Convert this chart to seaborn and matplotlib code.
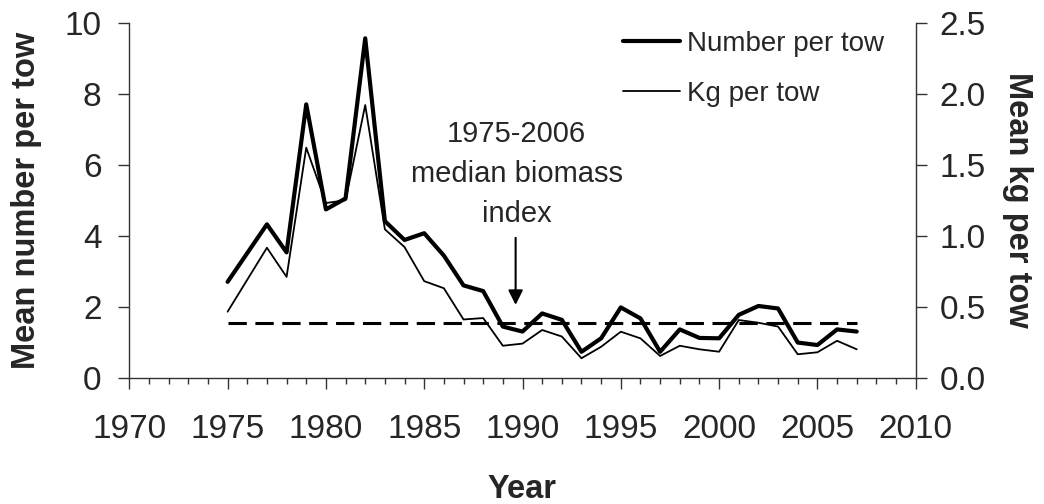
import matplotlib
matplotlib.use("Agg")
import matplotlib.pyplot as plt
from matplotlib.ticker import MultipleLocator, FormatStrFormatter
import seaborn as sns
import pandas as pd

years = [1975, 1977, 1978, 1979, 1980, 1981, 1982, 1983, 1984, 1985, 1986,
         1987, 1988, 1989, 1990, 1991, 1992, 1993, 1994, 1995, 1996, 1997,
         1998, 1999, 2000, 2001, 2002, 2003, 2004, 2005, 2006, 2007]
number_per_tow = [2.70, 4.32, 3.53, 7.70, 4.74, 5.05, 9.56, 4.41, 3.88, 4.07, 3.44,
                  2.60, 2.44, 1.44, 1.30, 1.81, 1.63, 0.73, 1.11, 1.98, 1.67, 0.73,
                  1.36, 1.12, 1.11, 1.77, 2.02, 1.95, 0.99, 0.92, 1.36, 1.30]
kg_per_tow = [0.465, 0.915, 0.71, 1.62, 1.23, 1.25, 1.92, 1.045, 0.92, 0.68, 0.63,
              0.41, 0.42, 0.225, 0.24, 0.336, 0.29, 0.137, 0.218, 0.324, 0.277, 0.153,
              0.225, 0.20, 0.183, 0.406, 0.387, 0.36, 0.165, 0.179, 0.26, 0.20]
median_years = [1975, 2007]
median_kg = [0.388, 0.388]

labels = ["Number per tow", "Kg per tow"]
annotation_text = "1975-2006\nmedian biomass\nindex"

sns.set_style("ticks")
plt.rcParams["font.family"] = ["Liberation Sans", "DejaVu Sans"]

df = pd.DataFrame({"year": years, "number": number_per_tow, "kg": kg_per_tow})
dmed = pd.DataFrame({"year": median_years, "kg": median_kg})

W, H = 1044, 504
L, R, T, B = 129.3, 915.7, 22.7, 377.7
fig = plt.figure(figsize=(W / 100, H / 100), dpi=100)
ax = fig.add_axes([L / W, 1 - B / H, (R - L) / W, (B - T) / H])
ax2 = ax.twinx()

sns.lineplot(data=df, x="year", y="number", ax=ax, color="black", lw=3.0,
             label=labels[0], legend=False)
sns.lineplot(data=df, x="year", y="kg", ax=ax2, color="black", lw=1.3,
             label=labels[1], legend=False)
sns.lineplot(data=dmed, x="year", y="kg", ax=ax2, color="black", lw=2.2,
             linestyle=(0, (6.0, 2.8)), legend=False)

ax.set_xlim(1970, 2010)
ax.set_ylim(0, 10)
ax2.set_ylim(0, 2.5)
ax.xaxis.set_major_locator(MultipleLocator(5))
ax.xaxis.set_minor_locator(MultipleLocator(1))
ax.yaxis.set_major_locator(MultipleLocator(2))
ax2.yaxis.set_major_locator(MultipleLocator(0.5))
ax2.yaxis.set_major_formatter(FormatStrFormatter("%.1f"))

for a in (ax, ax2):
    for s in a.spines.values():
        s.set_color("#333333")
        s.set_linewidth(1.0)
    a.spines["top"].set_visible(False)

ax.spines["right"].set_visible(False)
ax2.spines["left"].set_visible(False)
ax2.spines["bottom"].set_visible(False)

ax.tick_params(axis="x", which="major", length=8, width=1, color="#333333",
               labelsize=24, pad=18)
ax.tick_params(axis="x", which="minor", length=4.5, width=1, color="#333333")
ax.tick_params(axis="y", which="major", length=8, width=1, color="#333333",
               labelsize=24, pad=12)
ax2.tick_params(axis="y", which="major", length=8, width=1, color="#333333",
                labelsize=24, pad=9)

ax.set_xlabel("Year", fontsize=23.5, fontweight="bold", va="center")
ax.set_ylabel("Mean number per tow", fontsize=23.5, fontweight="bold", va="center")
ax2.set_ylabel("Mean kg per tow", fontsize=23.5, fontweight="bold", rotation=270,
               va="center")
ax.xaxis.set_label_coords(0.5, (B - 490) / (B - T))
ax.yaxis.set_label_coords((27 - L) / (R - L), 0.5)
ax2.yaxis.set_label_coords((1017 - L) / (R - L), 0.5)

ax.annotate("", xy=(1989.65, 2.05), xytext=(1989.65, 3.94),
            arrowprops=dict(arrowstyle="-|>", color="black", lw=1.5,
                            mutation_scale=22, shrinkA=0, shrinkB=0))
ax.text(1989.7, 5.74, annotation_text, ha="center", va="center",
        multialignment="center", fontsize=21, linespacing=1.55)

h1, l1 = ax.get_legend_handles_labels()
h2, l2 = ax2.get_legend_handles_labels()
leg = ax2.legend(h1 + h2, l1 + l2, loc="upper left",
                 bbox_to_anchor=(623 / W, 1 - 31 / H),
                 bbox_transform=fig.transFigure, frameon=False, fontsize=20,
                 handlelength=2.05, handletextpad=0.25, borderpad=0,
                 borderaxespad=0, labelspacing=0.87)

fig.savefig("out.png", dpi=100)
